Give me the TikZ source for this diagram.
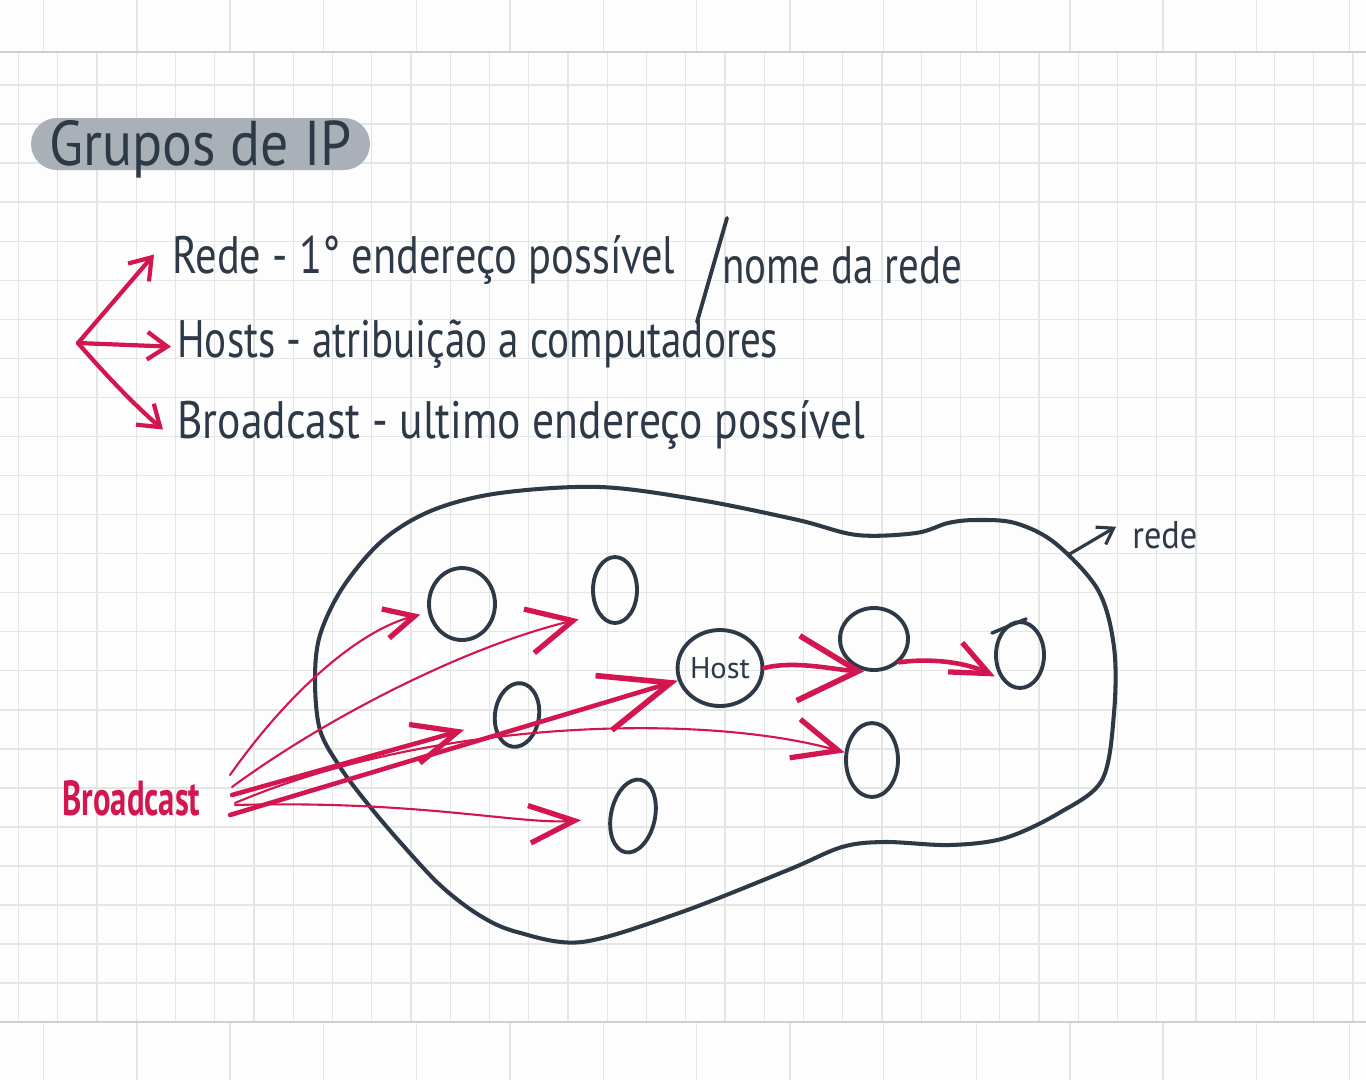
\documentclass[tikz,border=0pt]{standalone}
\usepackage{fontspec}
\setmainfont{PT Sans}
\usepackage{graphicx}
\usetikzlibrary{arrows.meta,shapes.geometric,calc}
\definecolor{ink}{HTML}{2E3947}
\definecolor{pen}{HTML}{D3164F}
\definecolor{pillc}{HTML}{A9B0B8}
\definecolor{gridc}{HTML}{E4E6E6}
\definecolor{edgec}{HTML}{CDD0D0}
\definecolor{paper}{HTML}{FDFDFD}
\newcommand\fitto[2]{\resizebox{#1}{\height}{#2}}
\begin{document}
\begin{tikzpicture}[x=0.02cm,y=-0.02cm,
  hostnode/.style={ellipse,draw=ink,line width=2.2pt,inner sep=0pt},
  txt/.style={inner sep=0pt,anchor=base west,text=ink,font=\fontsize{30}{36}\selectfont},
  redline/.style={draw=pen,line width=1.2pt,line cap=round},
  redthick/.style={draw=pen,line width=2.6pt,line cap=round},
  fanarr/.style={draw=pen,line width=2.4pt,line cap=round,
    -{Straight Barb[length=0.4cm,width=0.55cm,line width=2.4pt]}},
  gridline/.style={draw=gridc,line width=0.8pt},
  edgeline/.style={draw=edgec,line width=1.6pt}
]
\useasboundingbox (0,0) rectangle (1366,1080);
\fill[paper] (0,0) rectangle (1366,1080);
% grid
\foreach \k in {0,...,34} \draw[gridline] ({18.5+39.25*\k},52) -- ({18.5+39.25*\k},1022);
\foreach \k in {0,...,23} \draw[gridline] (0,{85+39.05*\k}) -- (1366,{85+39.05*\k});
\foreach \k in {0,...,14} {
  \draw[gridline] ({43.5+93.3*\k},0) -- ({43.5+93.3*\k},52);
  \draw[gridline] ({43.5+93.3*\k},1022) -- ({43.5+93.3*\k},1080);
}
\draw[edgeline] (0,52) -- (1366,52);
\draw[edgeline] (0,1022) -- (1366,1022);

% title
\node[fill=pillc,rounded corners=0.52cm,minimum width=6.78cm,minimum height=1.04cm,
  inner sep=0pt,text=ink,text height=0.9cm,text depth=0.06cm] (title) at (200.5,144)
  {\fontsize{36}{40}\selectfont\fitto{6.04cm}{Grupos de IP}};

% list
\node[txt] (l1) at (172,273) {\fitto{10.06cm}{Rede - 1° endereço possível}};
\node[txt] (l1b) at (722,283) {\fitto{4.8cm}{nome da rede}};
\draw[ink,line width=2.2pt,line cap=round] (727,218) -- (697,322);
\node[txt] (l2) at (177,357) {\fitto{12.02cm}{Hosts - atribuição a computadores}};
\node[txt] (l3) at (177,438) {\fitto{13.76cm}{Broadcast - ultimo endereço possível}};
\coordinate (fan) at (78,343);
\draw[fanarr] (fan) -- ($(l1.west)+(-18,-5)$);
\draw[fanarr] (fan) -- ($(l2.west)+(-6,3)$);
\draw[fanarr] (fan) .. controls (110,380) and (140,410) .. ($(l3.west)+(-14,5)$);

% network blob
\draw[ink,line width=2.3pt] plot[smooth cycle,tension=0.55] coordinates {
  (600,487) (700,500) (798,520) (857,535) (916,533) (948,523) (976,520) (1015,523)
  (1055,543) (1098,590) (1114,647) (1114,713) (1102,780) (1059,813) (1005,838)
  (950,845) (885,842) (842,847) (788,870) (679,913) (582,942) (517,932) (479,915)
  (440,885) (400,842) (367,803) (340,767) (320,730) (315,680) (320,635) (343,587)
  (383,540) (433,510) (500,493)};
\coordinate (bp) at (1068,555);
\node[txt,font=\fontsize{22}{26}\selectfont] (rede) at (1132,548) {\fitto{1.3cm}{rede}};
\draw[ink,line width=1.8pt,line cap=round,-{Straight Barb[length=0.3cm,width=0.4cm,line width=1.8pt]}]
  (bp) -- ($(rede.west)+(-16,-8)$);

% hosts
\node[hostnode,minimum width=1.32cm,minimum height=1.44cm] (n1) at (462,604) {};
\node[hostnode,minimum width=0.88cm,minimum height=1.32cm] (n2) at (615,590) {};
\node[hostnode,minimum width=0.88cm,minimum height=1.28cm,rotate=-8] (n4) at (517,715) {};
\node[hostnode,minimum width=0.88cm,minimum height=1.48cm,rotate=-12] (n8) at (633,816) {};
\node[hostnode,minimum width=1.48cm,minimum height=1.52cm,text=ink] (host) at (720,668)
  {\fontsize{17}{18}\selectfont\fitto{1.2cm}{Host}};
\node[hostnode,minimum width=1.36cm,minimum height=1.24cm] (n5) at (874,639) {};
\node[hostnode,minimum width=0.96cm,minimum height=1.32cm] (n6) at (1020,655) {};
\node[hostnode,minimum width=1.04cm,minimum height=1.48cm] (n7) at (872,760) {};
\draw[ink,line width=2pt,line cap=round] (992,633) -- (1026,619);

% broadcast
\node[txt,text=pen,font=\fontsize{28}{32}\selectfont\bfseries] (bc) at (62,815) {\fitto{2.76cm}{Broadcast}};
\coordinate (src) at (232,793);
\draw[redline,-{Straight Barb[length=0.6cm,width=0.6cm,line width=3pt]},shorten >=0.16cm]
  ($(src)+(-2,-18)$) .. controls (290,690) and (360,630) .. (n1);
\draw[redline,-{Straight Barb[length=0.9cm,width=0.9cm,line width=3pt]},shorten >=0.4cm]
  ($(src)+(0,-6)$) .. controls (330,715) and (470,645) .. (n2.south west);
\draw[redthick,-{Straight Barb[length=0.9cm,width=0.8cm,line width=3pt]},shorten >=0.6cm]
  ($(src)+(0,2)$) -- (n4);
\draw[redthick,-{Straight Barb[length=1.4cm,width=1.14cm,line width=3.2pt]}]
  ($(src)+(-2,22)$) -- (host);
\draw[redline,-{Straight Barb[length=0.9cm,width=0.8cm,line width=3pt]}]
  ($(src)+(3,10)$) .. controls (430,720) and (700,712) .. (n7);
\draw[redline,-{Straight Barb[length=0.9cm,width=0.75cm,line width=3pt]},shorten >=0.55cm]
  ($(src)+(3,12)$) .. controls (420,800) and (520,825) .. (n8);
\draw[redthick,-{Straight Barb[length=1.2cm,width=1.3cm,line width=3.2pt]},shorten >=0.2cm]
  (host.east) .. controls (795,660) and (835,670) .. (n5.south);
\draw[redthick,-{Straight Barb[length=0.75cm,width=0.65cm,line width=3pt]},shorten >=0.15cm]
  (n5.south east) .. controls (930,658) and (965,662) .. (n6.south west);
\end{tikzpicture}
\end{document}
